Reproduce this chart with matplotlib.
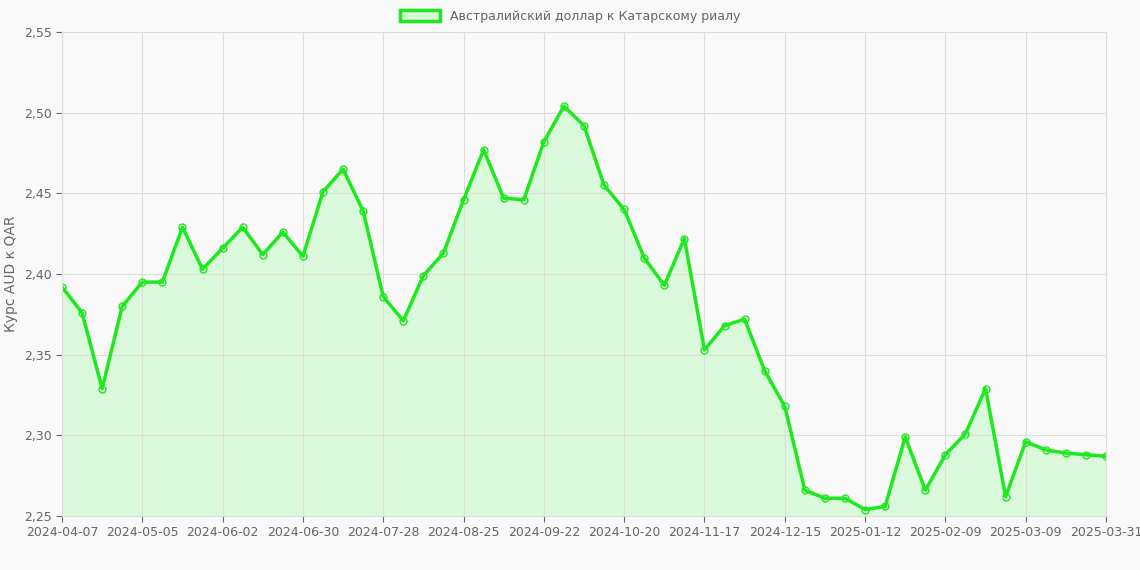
import matplotlib
matplotlib.use("Agg")
import matplotlib.pyplot as plt
import numpy as np
import datetime as dt

values = [2.392,2.376,2.329,2.380,2.395,2.395,2.429,2.403,2.416,2.429,2.412,2.426,2.411,
          2.451,2.465,2.439,2.386,2.371,2.399,2.413,2.446,2.477,2.447,2.446,2.482,2.504,
          2.492,2.455,2.440,2.410,2.393,2.422,2.353,2.368,2.372,2.340,2.318,2.266,2.261,
          2.261,2.254,2.256,2.299,2.266,2.288,2.301,2.329,2.262,2.296,2.291,2.289,2.288,2.287]
start = dt.date(2024, 4, 7)
dates = [(start + dt.timedelta(weeks=i)).isoformat() for i in range(len(values))]
dates[-1] = "2025-03-31"
y_ticks = [2.25, 2.30, 2.35, 2.40, 2.45, 2.50, 2.55]

fig = plt.figure(figsize=(11.4, 5.7), dpi=100)
fig.patch.set_facecolor("#f9f9f9")
ax = fig.add_axes([62/1140, 1-516/570, (1106-62)/1140, (516-32)/570])
ax.set_facecolor("#f9f9f9")
x = np.arange(len(values))
ax.fill_between(x, values, 2.25, color="#00ff00", alpha=0.12, linewidth=0)
ax.plot(x, values, color="#1ee81e", linewidth=2.5, marker="o", markersize=5,
        markerfacecolor="none", markeredgecolor="#1ee81e", markeredgewidth=1,
        label="Австралийский доллар к Катарскому риалу")
ax.set_xlim(0, len(values)-1)
ax.set_ylim(2.25, 2.55)
ticks = list(range(0, len(values), 4))
ax.set_xticks(ticks)
ax.set_xticklabels([dates[i] for i in ticks])
ax.set_xticks(x, minor=False) if False else None
ax.set_yticks(y_ticks)
ax.set_yticklabels([f"{v:.2f}".replace(".", ",") for v in y_ticks])
ax.grid(True, color="#dddddd", linewidth=0.8)
for s in ax.spines.values():
    s.set_color("#dddddd")
ax.tick_params(colors="#666666", labelsize=9, length=4)
ax.set_ylabel("Курс AUD к QAR", color="#666666", fontsize=10)
leg = fig.legend(loc="upper center", bbox_to_anchor=(0.5, 1.0), frameon=False,
                 fontsize=9, handlelength=3, handleheight=1)
for t in leg.get_texts():
    t.set_color("#666666")
from matplotlib.patches import Patch
leg.remove()
h = Patch(facecolor="#d6f8d6", edgecolor="#1ee81e", linewidth=2.5,
          label="Австралийский доллар к Катарскому риалу")
leg = fig.legend(handles=[h], loc="upper center", bbox_to_anchor=(0.5, 1.003), frameon=False,
                 fontsize=9, handlelength=3.2, handleheight=1)
for t in leg.get_texts():
    t.set_color("#666666")
fig.savefig("out.png", dpi=100, facecolor=fig.get_facecolor())
